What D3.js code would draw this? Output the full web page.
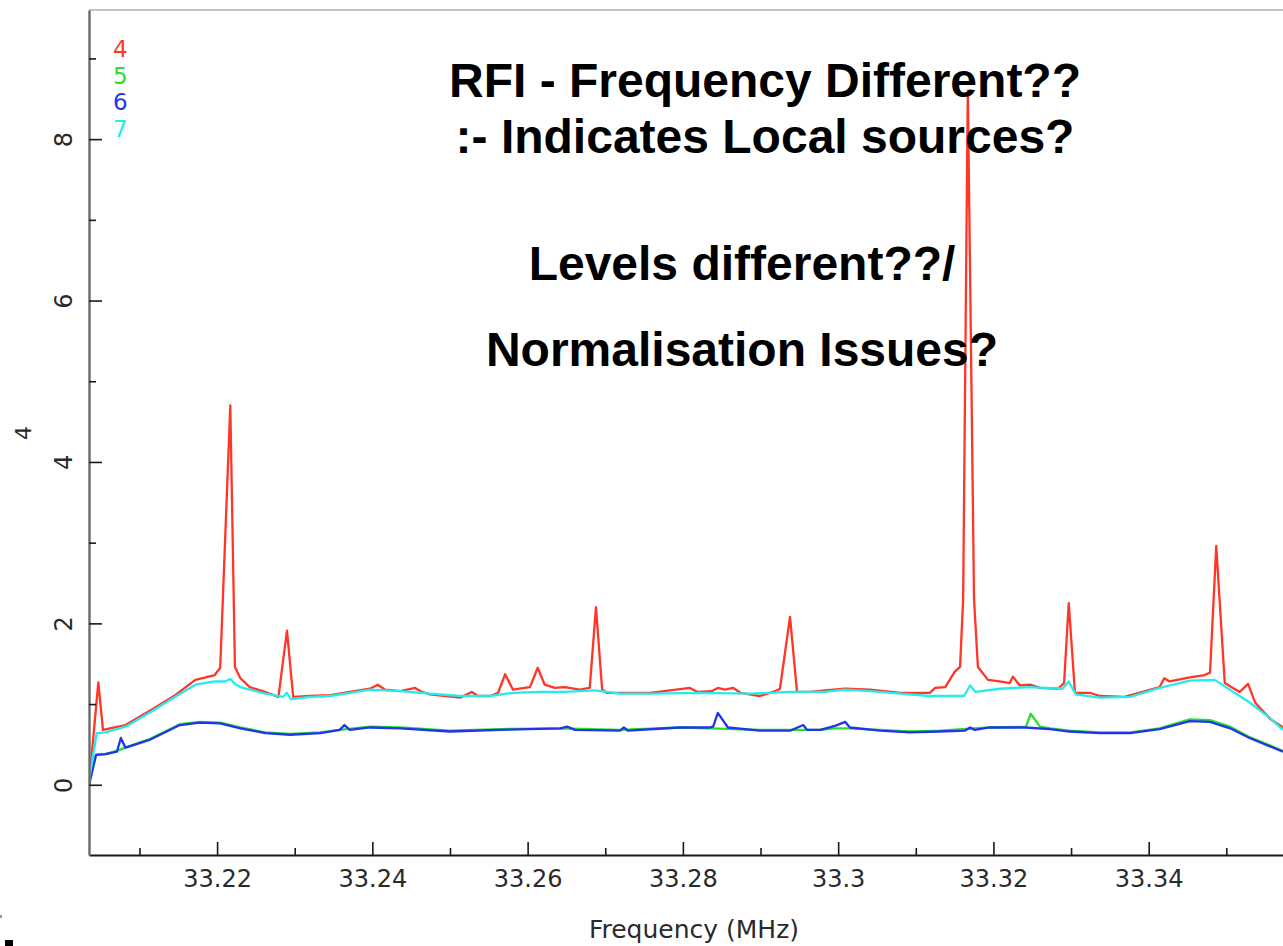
<!DOCTYPE html>
<html>
<head>
  <meta charset="utf-8">
  <script src="https://d3js.org/d3.v7.min.js"></script>
  <style>
    body { margin: 0; background: #fff; }
    svg { display: block; }
    .tick text, .lbl { font-family: "DejaVu Sans", sans-serif; fill: #2a2a2a; }
    .note { font-family: "Liberation Sans", Arial, sans-serif; font-weight: bold; font-size: 48px; fill: #000; }
  </style>
</head>
<body>
<script type="text/javascript">
  // frequency (MHz) / amplitude pairs for each antenna
  var freq4 = [33.2035, 33.2047, 33.2053, 33.2062, 33.2082, 33.2114, 33.2146, 33.2172, 33.2197, 33.2204,
               33.2217, 33.2223, 33.2230, 33.2242, 33.2262, 33.2279, 33.2290, 33.2298, 33.2320, 33.2346,
               33.2371, 33.2397, 33.2407, 33.2416, 33.2436, 33.2455, 33.2464, 33.2474, 33.2513, 33.2528,
               33.2536, 33.2552, 33.2562, 33.2571, 33.2581, 33.2603, 33.2613, 33.2622, 33.2635, 33.2648,
               33.2667, 33.2680, 33.2688, 33.2696, 33.2702, 33.2758, 33.2809, 33.2819, 33.2837, 33.2845,
               33.2854, 33.2865, 33.2874, 33.2899, 33.2919, 33.2925, 33.2938, 33.2947, 33.2964, 33.2983,
               33.3009, 33.3041, 33.3080, 33.3118, 33.3125, 33.3138, 33.3150, 33.3157, 33.3161, 33.3164,
               33.3167, 33.3171, 33.3175, 33.3180, 33.3193, 33.3208, 33.3221, 33.3225, 33.3234, 33.3247,
               33.3260, 33.3283, 33.3291, 33.3297, 33.3305, 33.3324, 33.3337, 33.3369, 33.3414, 33.3420,
               33.3427, 33.3453, 33.3472, 33.3479, 33.3487, 33.3498, 33.3517, 33.3528, 33.3537, 33.3556, 33.3573];
  var val4  = [0.00, 1.27, 0.68, 0.70, 0.74, 0.92, 1.11, 1.30, 1.36, 1.45,
               4.70, 1.46, 1.32, 1.21, 1.15, 1.09, 1.91, 1.09, 1.10, 1.11,
               1.15, 1.19, 1.24, 1.18, 1.16, 1.20, 1.15, 1.12, 1.08, 1.15,
               1.10, 1.10, 1.14, 1.37, 1.18, 1.21, 1.45, 1.24, 1.20, 1.21,
               1.18, 1.20, 2.20, 1.18, 1.14, 1.14, 1.20, 1.15, 1.16, 1.20,
               1.18, 1.20, 1.14, 1.10, 1.16, 1.19, 2.08, 1.15, 1.15, 1.17,
               1.19, 1.18, 1.14, 1.14, 1.20, 1.21, 1.40, 1.46, 2.30, 5.50,
               8.60, 5.50, 2.30, 1.46, 1.30, 1.28, 1.26, 1.34, 1.23, 1.24,
               1.20, 1.19, 1.26, 2.25, 1.14, 1.14, 1.10, 1.09, 1.21, 1.32,
               1.28, 1.33, 1.36, 1.39, 2.96, 1.26, 1.15, 1.25, 1.02, 0.82, 0.71];

  var freq5 = [33.2035, 33.2044, 33.2056, 33.2071, 33.2082, 33.2114, 33.2152, 33.2178, 33.2204, 33.2230,
               33.2262, 33.2294, 33.2333, 33.2358, 33.2397, 33.2436, 33.2500, 33.2564, 33.2642, 33.2719,
               33.2796, 33.2835, 33.2899, 33.2938, 33.2977, 33.2996, 33.3015, 33.3054, 33.3092, 33.3131,
               33.3195, 33.3242, 33.3248, 33.3260, 33.3273, 33.3298, 33.3337, 33.3376, 33.3414, 33.3453,
               33.3479, 33.3505, 33.3530, 33.3573];
  var val5  = [0.00, 0.37, 0.38, 0.42, 0.46, 0.57, 0.75, 0.78, 0.77, 0.71,
               0.65, 0.63, 0.65, 0.68, 0.72, 0.71, 0.67, 0.69, 0.70, 0.68,
               0.71, 0.70, 0.68, 0.68, 0.68, 0.70, 0.70, 0.68, 0.66, 0.67,
               0.71, 0.72, 0.88, 0.72, 0.70, 0.67, 0.65, 0.65, 0.70, 0.81,
               0.80, 0.72, 0.59, 0.42];

  var freq6 = [33.2035, 33.2044, 33.2056, 33.2071, 33.2076, 33.2082, 33.2114, 33.2152, 33.2178, 33.2204,
               33.2230, 33.2262, 33.2294, 33.2333, 33.2358, 33.2364, 33.2371, 33.2397, 33.2436, 33.2500,
               33.2564, 33.2642, 33.2651, 33.2661, 33.2719, 33.2724, 33.2729, 33.2796, 33.2835, 33.2839,
               33.2845, 33.2858, 33.2899, 33.2938, 33.2955, 33.2960, 33.2977, 33.2996, 33.3009, 33.3015,
               33.3054, 33.3092, 33.3131, 33.3163, 33.3170, 33.3176, 33.3195, 33.3241, 33.3273, 33.3298,
               33.3337, 33.3376, 33.3414, 33.3453, 33.3479, 33.3505, 33.3530, 33.3573];
  var val6  = [0.00, 0.37, 0.38, 0.41, 0.58, 0.46, 0.56, 0.74, 0.77, 0.76,
               0.70, 0.64, 0.62, 0.64, 0.68, 0.74, 0.68, 0.71, 0.70, 0.66,
               0.68, 0.70, 0.72, 0.68, 0.67, 0.71, 0.67, 0.71, 0.71, 0.72,
               0.89, 0.71, 0.67, 0.67, 0.74, 0.68, 0.68, 0.73, 0.78, 0.71,
               0.67, 0.65, 0.66, 0.67, 0.71, 0.68, 0.71, 0.71, 0.69, 0.66,
               0.64, 0.64, 0.69, 0.79, 0.78, 0.70, 0.58, 0.41];

  var freq7 = [33.2035, 33.2040, 33.2045, 33.2056, 33.2082, 33.2114, 33.2146, 33.2172, 33.2197, 33.2210,
               33.2217, 33.2223, 33.2230, 33.2262, 33.2285, 33.2290, 33.2295, 33.2320, 33.2346, 33.2371,
               33.2397, 33.2436, 33.2474, 33.2513, 33.2552, 33.2581, 33.2616, 33.2648, 33.2687, 33.2719,
               33.2758, 33.2822, 33.2886, 33.2938, 33.2983, 33.3009, 33.3041, 33.3080, 33.3118, 33.3162,
               33.3170, 33.3177, 33.3208, 33.3247, 33.3289, 33.3297, 33.3306, 33.3337, 33.3376, 33.3414,
               33.3453, 33.3485, 33.3530, 33.3556, 33.3573];
  var val7  = [0.05, 0.35, 0.64, 0.65, 0.72, 0.90, 1.09, 1.24, 1.28, 1.28,
               1.31, 1.25, 1.21, 1.13, 1.09, 1.14, 1.06, 1.09, 1.10, 1.14,
               1.18, 1.16, 1.13, 1.10, 1.10, 1.14, 1.15, 1.15, 1.17, 1.13,
               1.13, 1.14, 1.13, 1.15, 1.15, 1.18, 1.16, 1.13, 1.10, 1.10,
               1.23, 1.15, 1.19, 1.21, 1.19, 1.28, 1.12, 1.08, 1.09, 1.20,
               1.29, 1.30, 1.02, 0.83, 0.68];

  var seriesNames  = ["4", "5", "6", "7"];
  var seriesColors = ["#ff3526", "#27e027", "#2034f0", "#25ecec"];

  var xMajor = [33.22, 33.24, 33.26, 33.28, 33.30, 33.32, 33.34];
  var xMajorLabels = ["33.22", "33.24", "33.26", "33.28", "33.3", "33.32", "33.34"];
  var xMinor = [33.21, 33.23, 33.25, 33.27, 33.29, 33.31, 33.33, 33.35];
  var yMajor = [0, 2, 4, 6, 8];
  var yMinor = [1, 3, 5, 7, 9];

  var notes = ["RFI - Frequency Different??", ":- Indicates Local sources?",
               "Levels different??/", "Normalisation Issues?"];

  var W = 1283, H = 946;
  var plotL = 89, plotT = 10, plotB = 855, plotR = 1283;

  var svg = d3.select("body").append("svg")
      .attr("width", W)
      .attr("height", H);

  var x = d3.scaleLinear().domain([33.2035, 33.3573]).range([plotL, plotR]);
  var y = d3.scaleLinear().domain([-0.87, 9.6]).range([plotB, plotT]);

  svg.append("clipPath").attr("id", "plotclip")
    .append("rect")
      .attr("x", plotL).attr("y", plotT)
      .attr("width", plotR - plotL).attr("height", plotB - plotT);

  // top frame line
  svg.append("line")
    .attr("x1", plotL).attr("x2", plotR)
    .attr("y1", plotT).attr("y2", plotT)
    .attr("stroke", "#c4c4c4").attr("stroke-width", 2);

  // series
  var allSeries = [[freq4, val4], [freq5, val5], [freq6, val6], [freq7, val7]];
  var line = d3.line()
    .x(function(d) { return x(d[0]); })
    .y(function(d) { return y(d[1]); });

  var plot = svg.append("g").attr("clip-path", "url(#plotclip)");
  allSeries.forEach(function(s, i) {
    var pts = s[0].map(function(f, j) { return [f, s[1][j]]; });
    plot.append("path")
      .datum(pts)
      .attr("d", line)
      .attr("fill", "none")
      .attr("stroke", seriesColors[i])
      .attr("stroke-width", 2.3)
      .attr("stroke-linejoin", "round");
  });

  // x axis, ticks pointing up into the plot
  var xAxis = svg.append("g")
    .attr("transform", "translate(0," + plotB + ")")
    .call(d3.axisBottom(x).tickValues(xMajor).tickSizeInner(-13).tickSizeOuter(0).tickPadding(15)
      .tickFormat(function(d, i) { return xMajorLabels[i]; }));
  xAxis.select(".domain").attr("stroke", "#1a1a1a").attr("stroke-width", 2);
  xAxis.selectAll(".tick line").attr("stroke", "#1a1a1a").attr("stroke-width", 1.6);
  xAxis.selectAll(".tick text").attr("font-size", 24).attr("fill", "#2a2a2a");

  svg.append("g")
    .attr("transform", "translate(0," + plotB + ")")
    .call(d3.axisBottom(x).tickValues(xMinor).tickSizeInner(-7).tickSizeOuter(0).tickFormat(""))
    .call(function(g) {
      g.select(".domain").remove();
      g.selectAll(".tick line").attr("stroke", "#1a1a1a").attr("stroke-width", 1.6);
    });

  // y axis, ticks pointing right, labels turned
  var yAxis = svg.append("g")
    .attr("transform", "translate(" + plotL + ",0)")
    .call(d3.axisLeft(y).tickValues(yMajor).tickSizeInner(-13).tickSizeOuter(0));
  yAxis.select(".domain").attr("stroke", "#6a6a6a").attr("stroke-width", 2.4);
  yAxis.selectAll(".tick line").attr("stroke", "#1a1a1a").attr("stroke-width", 1.6);
  yAxis.selectAll(".tick text")
    .attr("x", null).attr("dy", null)
    .attr("font-size", 24)
    .attr("text-anchor", "middle")
    .attr("transform", "translate(-17,0) rotate(-90)");

  svg.append("g")
    .attr("transform", "translate(" + plotL + ",0)")
    .call(d3.axisLeft(y).tickValues(yMinor).tickSizeInner(-7).tickSizeOuter(0).tickFormat(""))
    .call(function(g) {
      g.select(".domain").remove();
      g.selectAll(".tick line").attr("stroke", "#1a1a1a").attr("stroke-width", 1.6);
    });

  // axis titles
  svg.append("text")
    .attr("class", "lbl")
    .attr("font-size", 22)
    .attr("text-anchor", "middle")
    .attr("transform", "translate(31,433) rotate(-90)")
    .text("4");

  svg.append("text")
    .attr("class", "lbl")
    .attr("font-size", 25)
    .attr("text-anchor", "middle")
    .attr("x", 694).attr("y", 938)
    .text("Frequency (MHz)");

  // legend of antenna numbers
  svg.selectAll(".legend")
    .data(seriesNames)
    .enter().append("text")
      .attr("class", "legend")
      .attr("font-family", "DejaVu Sans, sans-serif")
      .attr("font-size", 23)
      .attr("x", 113)
      .attr("y", function(d, i) { return 57 + i * 26.6; })
      .attr("fill", function(d, i) { return seriesColors[i]; })
      .text(function(d) { return d; });

  // annotations
  var notePos = [[765, 97], [765, 153], [742, 280], [742, 366]];
  svg.selectAll(".note")
    .data(notes)
    .enter().append("text")
      .attr("class", "note")
      .attr("text-anchor", "middle")
      .attr("x", function(d, i) { return notePos[i][0]; })
      .attr("y", function(d, i) { return notePos[i][1]; })
      .text(function(d) { return d; });

  // stray marks in the bottom-left corner of the slide
  svg.append("rect").attr("x", 0).attr("y", 915).attr("width", 2).attr("height", 3).attr("fill", "#999");
  svg.append("rect").attr("x", 5).attr("y", 940).attr("width", 8).attr("height", 6).attr("fill", "#000");
</script>
</body>
</html>
